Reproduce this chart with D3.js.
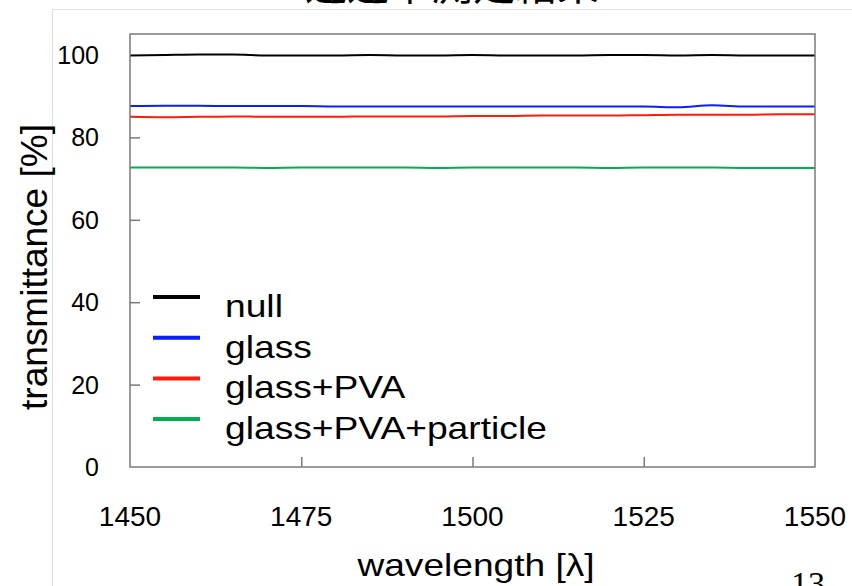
<!DOCTYPE html>
<html>
<head>
<meta charset="utf-8">
<script src="https://cdn.jsdelivr.net/npm/d3@7"></script>
<style>
  html, body { margin: 0; padding: 0; background: #fff; }
  svg { display: block; }
</style>
</head>
<body>
<svg id="chart" width="852" height="586"></svg>
<script>
// Transmittance spectra, sampled every 5 nm
const wavelengths = [1450, 1455, 1460, 1465, 1470, 1475, 1480, 1485, 1490, 1495, 1500,
                     1505, 1510, 1515, 1520, 1525, 1530, 1535, 1540, 1545, 1550];
const nullValues     = [99.9, 100.0, 100.1, 100.1, 99.9, 99.9, 99.9, 100.0, 99.9, 99.9, 100.0,
                        99.9, 99.9, 99.9, 100.0, 100.0, 99.9, 100.0, 99.9, 99.9, 99.9];
const glassValues    = [87.6, 87.7, 87.7, 87.6, 87.6, 87.6, 87.5, 87.5, 87.5, 87.5, 87.5,
                        87.5, 87.5, 87.5, 87.5, 87.5, 87.3, 87.8, 87.5, 87.5, 87.5];
const pvaValues      = [85.0, 84.9, 85.0, 85.1, 85.0, 85.0, 85.0, 85.1, 85.1, 85.1, 85.2,
                        85.2, 85.3, 85.3, 85.3, 85.4, 85.5, 85.5, 85.5, 85.6, 85.6];
const particleValues = [72.7, 72.7, 72.7, 72.7, 72.6, 72.7, 72.7, 72.7, 72.7, 72.6, 72.7,
                        72.7, 72.7, 72.7, 72.6, 72.7, 72.7, 72.7, 72.6, 72.6, 72.6];

const seriesNames  = ["null", "glass", "glass+PVA", "glass+PVA+particle"];
const seriesValues = [nullValues, glassValues, pvaValues, particleValues];
const seriesColors = ["#000000", "#0a1eff", "#ff1a0a", "#00b050"];

const xTicks = [1450, 1475, 1500, 1525, 1550];
const yTicks = [0, 20, 40, 60, 80, 100];

const titleText = "透過率測定結果";
const xLabel = "wavelength [λ]";
const yLabel = "transmittance [%]";
const pageNumber = "13";

const svg = d3.select("#chart");
const font = "'Liberation Sans', Arial, sans-serif";

const plot = { left: 130, right: 815, top: 34, bottom: 467 };
const x = d3.scaleLinear().domain([1450, 1550]).range([plot.left, plot.right]);
const y = d3.scaleLinear().domain([0, 105.1]).range([plot.bottom, plot.top]);

// slide guide lines
svg.append("line").attr("x1", 52).attr("x2", 852).attr("y1", 9.5).attr("y2", 9.5)
  .attr("stroke", "#e2e2e2").attr("stroke-width", 1);
svg.append("line").attr("x1", 52.5).attr("x2", 52.5).attr("y1", 9).attr("y2", 586)
  .attr("stroke", "#dcdcdc").attr("stroke-width", 1);

// slide title, mostly above the visible area
svg.append("text").attr("x", 452).attr("y", 0)
  .attr("text-anchor", "middle")
  .attr("font-family", "'Noto Sans CJK JP', sans-serif")
  .attr("font-size", 42).attr("fill", "#000")
  .text(titleText);

// series lines
const line = d3.line()
  .x((d, i) => x(wavelengths[i]))
  .y(d => y(d))
  .curve(d3.curveMonotoneX);

const g = svg.append("g");
seriesValues.forEach((vals, k) => {
  g.append("path").datum(vals)
    .attr("d", line)
    .attr("fill", "none")
    .attr("stroke", seriesColors[k])
    .attr("stroke-width", 2);
});

// axes with inward ticks
const axisColor = "#7a7a7a";
const yAxis = svg.append("g").attr("transform", `translate(${plot.left},0)`)
  .call(d3.axisRight(y).tickValues(yTicks.slice(1, -1)).tickSize(10).tickFormat(""));
const xAxis = svg.append("g").attr("transform", `translate(0,${plot.bottom})`)
  .call(d3.axisTop(x).tickValues(xTicks.slice(1, -1)).tickSize(10).tickFormat(""));
[yAxis, xAxis].forEach(a => {
  a.select(".domain").remove();
  a.selectAll(".tick line").attr("stroke", axisColor).attr("stroke-width", 1.5);
});

// frame
svg.append("rect")
  .attr("x", plot.left).attr("y", plot.top)
  .attr("width", plot.right - plot.left).attr("height", plot.bottom - plot.top)
  .attr("fill", "none").attr("stroke", axisColor).attr("stroke-width", 1.5);

// tick labels
svg.append("g").selectAll("text").data(yTicks).join("text")
  .attr("x", 99).attr("y", d => y(d))
  .attr("dy", "0.36em")
  .attr("text-anchor", "end")
  .attr("font-family", font).attr("font-size", 25)
  .text(d => d);

svg.append("g").selectAll("text").data(xTicks).join("text")
  .attr("x", d => x(d)).attr("y", 526)
  .attr("text-anchor", "middle")
  .attr("font-family", font).attr("font-size", 28)
  .text(d => d);

// axis titles (the slide's text is slightly widened)
svg.append("text")
  .attr("transform", "translate(476,576) scale(1.16,1)")
  .attr("text-anchor", "middle")
  .attr("font-family", font).attr("font-size", 32)
  .text(xLabel);

svg.append("text")
  .attr("transform", "translate(47,267) rotate(-90)")
  .attr("text-anchor", "middle")
  .attr("font-family", font).attr("font-size", 37)
  .text(yLabel);

// legend
const legend = svg.append("g");
seriesNames.forEach((name, k) => {
  const ly = 297 + k * 40.7;
  legend.append("line")
    .attr("x1", 153).attr("x2", 200).attr("y1", ly).attr("y2", ly)
    .attr("stroke", seriesColors[k]).attr("stroke-width", 4);
  legend.append("text")
    .attr("transform", `translate(225,${ly + 20}) scale(1.2,1)`)
    .attr("font-family", font).attr("font-size", 31)
    .text(name);
});

// page number
svg.append("text").attr("x", 808).attr("y", 595)
  .attr("text-anchor", "middle")
  .attr("font-family", "'Liberation Serif', 'Times New Roman', serif")
  .attr("font-size", 34)
  .text(pageNumber);
</script>
</body>
</html>
